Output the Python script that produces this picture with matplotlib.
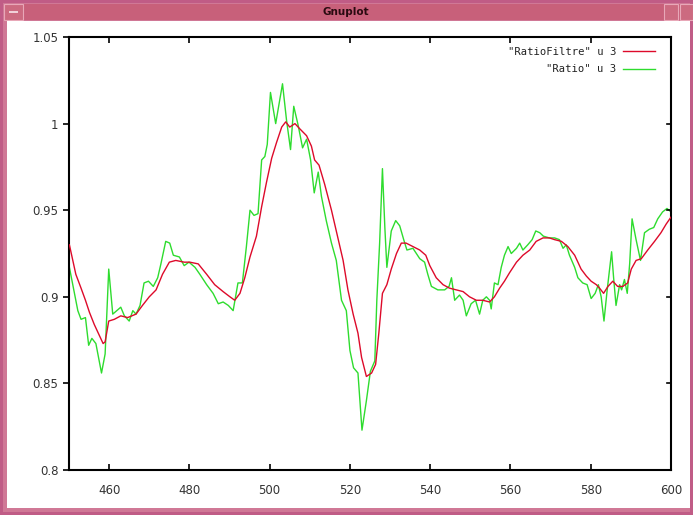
import matplotlib
matplotlib.use("Agg")
import matplotlib.pyplot as plt
from matplotlib.patches import Rectangle

# ---------------- data ----------------
ratio_x = [450.1, 452.2, 453.0, 454.1, 454.9, 455.7, 456.7, 458.1, 459.0, 459.9,
           460.9, 461.9, 462.9, 463.8, 465.0, 465.9, 466.7, 467.7, 468.7, 469.8,
           471.0, 472.1, 472.9, 474.1, 475.1, 476.0, 477.5, 478.7, 479.9, 481.4,
           482.6, 484.3, 485.9, 487.2, 488.4, 489.7, 490.9, 492.1, 493.2, 494.2,
           495.1, 496.1, 497.1, 498.0, 498.8, 499.4, 500.2, 501.5, 503.2, 504.2,
           505.2, 506.0, 507.1, 508.2, 509.2, 510.2, 511.1, 512.1, 512.9, 514.1,
           515.4, 516.6, 517.9, 519.1, 520.0, 520.9, 522.0, 523.0, 524.1, 525.1,
           526.2, 526.7, 527.4, 528.1, 528.7, 529.2, 530.3, 531.4, 532.4, 533.4,
           534.2, 535.7, 537.4, 538.6, 539.4, 540.3, 541.9, 543.6, 544.7, 545.3,
           546.1, 547.3, 548.2, 549.0, 550.2, 551.3, 552.3, 553.1, 554.0, 554.8,
           555.2, 556.0, 556.9, 557.7, 558.5, 559.4, 560.2, 561.5, 562.3, 563.1,
           564.3, 565.4, 566.3, 567.3, 568.2, 569.7, 571.0, 572.2, 573.1, 573.9,
           574.7, 576.0, 576.8, 578.0, 579.1, 580.1, 581.1, 581.9, 582.6, 583.3,
           584.1, 584.7, 585.2, 585.7, 586.3, 587.2, 587.7, 588.4, 589.1, 589.7,
           590.3, 591.3, 592.4, 593.4, 594.6, 595.7, 596.7, 597.9, 599.0, 600.0]
ratio_y = [0.917, 0.892, 0.887, 0.888, 0.872, 0.876, 0.873, 0.856, 0.867, 0.916,
           0.890, 0.892, 0.894, 0.889, 0.886, 0.892, 0.890, 0.895, 0.908, 0.909,
           0.906, 0.911, 0.919, 0.932, 0.931, 0.924, 0.923, 0.918, 0.920, 0.917,
           0.913, 0.907, 0.902, 0.896, 0.897, 0.895, 0.892, 0.908, 0.908, 0.929,
           0.950, 0.947, 0.948, 0.979, 0.981, 0.988, 1.018, 1.000, 1.023, 1.002,
           0.985, 1.010, 0.999, 0.986, 0.991, 0.979, 0.960, 0.972, 0.958, 0.944,
           0.931, 0.921, 0.898, 0.892, 0.869, 0.859, 0.856, 0.823, 0.840, 0.857,
           0.863, 0.898, 0.931, 0.974, 0.940, 0.917, 0.938, 0.944, 0.941, 0.933,
           0.927, 0.928, 0.922, 0.920, 0.913, 0.906, 0.904, 0.904, 0.906, 0.911,
           0.898, 0.901, 0.898, 0.889, 0.896, 0.898, 0.890, 0.898, 0.900, 0.898,
           0.893, 0.908, 0.907, 0.917, 0.924, 0.929, 0.925, 0.928, 0.931, 0.927,
           0.930, 0.933, 0.938, 0.937, 0.935, 0.934, 0.934, 0.933, 0.928, 0.930,
           0.924, 0.917, 0.911, 0.908, 0.907, 0.899, 0.902, 0.907, 0.900, 0.886,
           0.904, 0.916, 0.926, 0.911, 0.895, 0.907, 0.904, 0.910, 0.902, 0.919,
           0.945, 0.933, 0.921, 0.937, 0.939, 0.940, 0.945, 0.949, 0.951, 0.949]

filtre_x = [450.1, 451.7, 453.0, 454.1, 455.1, 456.3, 457.5, 458.5, 459.0, 459.9,
            461.3, 462.9, 464.6, 466.7, 468.3, 470.0, 471.7, 473.3, 475.0, 476.6,
            478.7, 480.1, 482.2, 484.3, 486.3, 488.4, 490.1, 491.3, 492.6, 493.8,
            495.1, 496.7, 498.0, 499.2, 500.5, 501.7, 503.0, 504.0, 505.0, 506.3,
            507.5, 509.2, 510.4, 511.2, 512.3, 513.7, 515.4, 517.0, 518.3, 519.5,
            520.8, 522.0, 522.9, 524.1, 525.4, 526.4, 527.2, 528.1, 529.2, 530.3,
            531.6, 532.8, 534.0, 535.7, 537.4, 538.9, 539.9, 541.5, 543.2, 544.8,
            546.5, 548.2, 549.8, 551.5, 553.1, 554.8, 556.0, 557.3, 558.5, 559.8,
            561.5, 563.1, 564.8, 566.4, 568.1, 569.7, 571.0, 572.7, 574.3, 576.0,
            577.6, 578.9, 580.1, 581.4, 582.2, 583.2, 584.3, 585.5, 586.7, 588.0,
            589.2, 590.1, 591.3, 592.6, 594.2, 595.9, 597.5, 598.8, 600.0]
filtre_y = [0.930, 0.913, 0.905, 0.898, 0.891, 0.884, 0.878, 0.873, 0.874, 0.886,
            0.887, 0.889, 0.888, 0.890, 0.895, 0.900, 0.904, 0.913, 0.920, 0.921,
            0.920, 0.920, 0.919, 0.913, 0.907, 0.903, 0.900, 0.898, 0.902, 0.911,
            0.923, 0.935, 0.952, 0.966, 0.980, 0.989, 0.998, 1.001, 0.998, 1.000,
            0.997, 0.993, 0.987, 0.979, 0.976, 0.965, 0.950, 0.934, 0.921, 0.904,
            0.890, 0.879, 0.865, 0.854, 0.856, 0.861, 0.879, 0.902, 0.907, 0.916,
            0.925, 0.931, 0.931, 0.929, 0.927, 0.924, 0.918, 0.911, 0.907, 0.905,
            0.904, 0.903, 0.900, 0.898, 0.898, 0.897, 0.900, 0.905, 0.909, 0.914,
            0.920, 0.924, 0.927, 0.932, 0.934, 0.934, 0.933, 0.932, 0.929, 0.924,
            0.916, 0.912, 0.909, 0.907, 0.905, 0.902, 0.906, 0.909, 0.906, 0.906,
            0.908, 0.916, 0.921, 0.922, 0.927, 0.932, 0.937, 0.942, 0.946]

x_ticks = [460, 480, 500, 520, 540, 560, 580, 600]
y_ticks = [0.8, 0.85, 0.9, 0.95, 1.0, 1.05]
y_tick_labels = ["0.8", "0.85", "0.9", "0.95", "1", "1.05"]
labels = ['"RatioFiltre" u 3', '"Ratio" u 3']

# ---------------- figure / window frame ----------------
W, H = 693, 515
fig = plt.figure(figsize=(W / 100, H / 100), dpi=100)
fig.patch.set_facecolor("#c4608a")


def rect(px, py, pw, ph, fc, ec="none", lw=0, z=-10):
    r = Rectangle((px / W, 1 - (py + ph) / H), pw / W, ph / H,
                  transform=fig.transFigure, facecolor=fc, edgecolor=ec,
                  linewidth=lw, zorder=z)
    fig.patches.append(r)


# outer frame
rect(0, 0, W, H, "#c05c86", z=-20)
rect(3, 3, W - 6, H - 6, "#d07896", z=-19)
# title bar
rect(4, 4, W - 8, 16, "#c8607a", z=-18)
rect(4, 4, 19, 16, "#cc6a80", ec="#e8a8b8", lw=0.8, z=-17)
rect(9, 11, 9, 2, "#f0d0d8", z=-16)
rect(664, 4, 14, 16, "#cc6a80", ec="#e8a8b8", lw=0.8, z=-17)
rect(680, 4, 13, 16, "#cc6a80", ec="#e8a8b8", lw=0.8, z=-17)
fig.text(346 / W, 1 - 12 / H, "Gnuplot", ha="center", va="center",
         fontsize=7.5, fontweight="bold", color="#2a0a10", family="DejaVu Sans")
# client area
rect(7, 21, W - 10, H - 28, "white", z=-15)

# ---------------- plot axes ----------------
L, R, T, B = 69, 671, 37, 470
ax = fig.add_axes([L / W, 1 - B / H, (R - L) / W, (B - T) / H])
ax.set_zorder(5)
ax.set_facecolor("white")

ax.plot(filtre_x, filtre_y, color="#dd0a2a", lw=1.0, label=labels[0], zorder=3)
ax.plot(ratio_x, ratio_y, color="#2edc2e", lw=1.0, label=labels[1], zorder=2)

ax.set_xlim(450, 600)
ax.set_ylim(0.8, 1.05)
ax.set_xticks(x_ticks)
ax.set_xticklabels([str(v) for v in x_ticks])
ax.set_yticks(y_ticks)
ax.set_yticklabels(y_tick_labels)

for s in ax.spines.values():
    s.set_linewidth(1.5)
    s.set_color("black")

ax.tick_params(axis="x", which="both", direction="in", top=True, bottom=True,
               length=4.5, width=1.2, pad=10, labelsize=8.5, labelcolor="#333333")
ax.tick_params(axis="y", which="both", direction="out", left=True, right=False,
               length=4.5, width=1.2, pad=3, labelsize=8.5, labelcolor="#333333")
# mirrored inward ticks on the right side
for yv in y_ticks:
    ax.plot([600 - 1.1, 600], [yv, yv], color="black", lw=1.2, clip_on=False,
            zorder=5)

# legend (gnuplot style: text right-aligned, sample to the right)
leg = ax.legend(loc="upper right", frameon=False, markerfirst=False,
                prop={"family": "DejaVu Sans Mono", "size": 7.6},
                handlelength=3.0, handletextpad=0.6, labelspacing=0.75,
                borderaxespad=0.3, bbox_to_anchor=(0.985, 0.995))
for t in leg.get_texts():
    t.set_color("#222222")

fig.savefig("out.png", dpi=100, facecolor=fig.get_facecolor())
